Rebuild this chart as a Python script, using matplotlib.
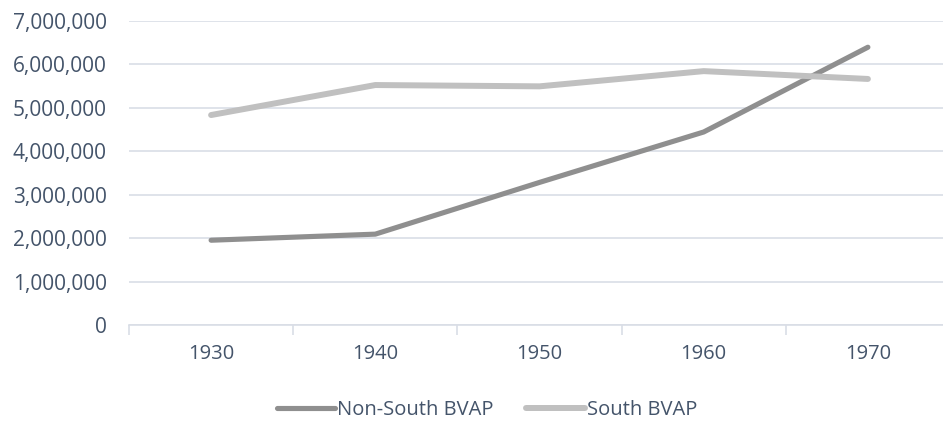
import matplotlib
matplotlib.use("Agg")
import matplotlib.pyplot as plt
import numpy as np
from matplotlib.ticker import FuncFormatter, FixedLocator

years = ["1930", "1940", "1950", "1960", "1970"]
non_south = [1950000, 2090000, 3280000, 4440000, 6390000]
south = [4830000, 5520000, 5490000, 5840000, 5660000]

text_color = "#44546a"
grid_color = "#d9dee6"

plt.rcParams['font.family'] = ['Open Sans', 'DejaVu Sans']

fig = plt.figure(figsize=(9.43, 4.21), dpi=100)
ax = fig.add_axes([129 / 943, 96 / 421, 821 / 943, 304.3 / 421])

x = np.arange(len(years))
ax.plot(x, non_south, color="#8f8f8f", lw=3.7, solid_capstyle="round", label="Non-South BVAP", zorder=3)
ax.plot(x, south, color="#c0c0c0", lw=4.3, solid_capstyle="round", label="South BVAP", zorder=3)

ax.set_xlim(-0.5, 4.5)
ax.set_ylim(0, 7000000)
ax.set_yticks(np.arange(0, 7000001, 1000000))
ax.yaxis.set_major_formatter(FuncFormatter(lambda v, p: f"{int(v):,}"))
ax.grid(axis="y", color=grid_color, lw=1.2)
ax.set_axisbelow(True)

ax.set_xticks(x)
ax.set_xticklabels(years)
ax.xaxis.set_minor_locator(FixedLocator(np.arange(-0.5, 5, 1.0)))
ax.tick_params(axis="x", which="major", length=0, pad=14, labelsize=14.5, labelcolor=text_color)
ax.tick_params(axis="x", which="minor", length=7, width=1.2, color=grid_color)
ax.tick_params(axis="y", length=0, pad=16, labelsize=15, labelcolor=text_color)

for s in ["top", "right", "left"]:
    ax.spines[s].set_visible(False)
ax.spines["bottom"].set_color(grid_color)
ax.spines["bottom"].set_linewidth(1.2)

leg = fig.legend(loc="center", bbox_to_anchor=(487 / 943, 1 - 410 / 421), ncol=2, frameon=False,
                 fontsize=14.5, handlelength=2.9, handletextpad=0.1, columnspacing=1.6)
for t in leg.get_texts():
    t.set_color(text_color)

fig.savefig("out.png", dpi=100)
